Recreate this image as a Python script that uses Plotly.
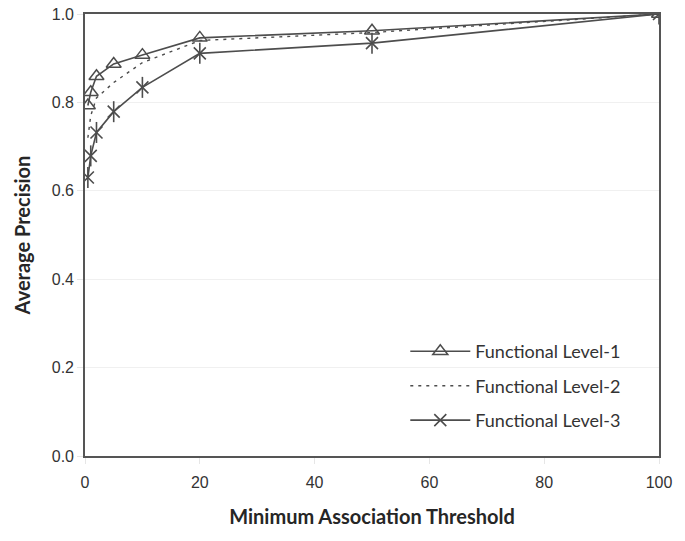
import plotly.graph_objects as go

thresholds = [0.5, 1, 2, 5, 10, 20, 50, 100]
level1 = [0.793, 0.823, 0.859, 0.887, 0.907, 0.946, 0.962, 1.0]
level2 = [0.72, 0.77, 0.81, 0.845, 0.89, 0.94, 0.958, 1.0]
level3 = [0.630, 0.679, 0.732, 0.779, 0.834, 0.911, 0.934, 1.0]
series_names = ["Functional Level-1", "Functional Level-2", "Functional Level-3"]
x_ticks = [0, 20, 40, 60, 80, 100]
y_ticks = [0.0, 0.2, 0.4, 0.6, 0.8, 1.0]

col = "#4d4d4d"
fig = go.Figure()
fig.add_trace(go.Scatter(
    x=thresholds, y=level1, name=series_names[0], mode="lines+markers",
    line=dict(color=col, width=1.6),
    marker=dict(symbol="triangle-up-open", size=13, color=col, line=dict(width=1.5, color=col)),
    legendgroup="g1"))
fig.add_trace(go.Scatter(
    x=thresholds, y=level2, name=series_names[1], mode="lines",
    line=dict(color=col, width=1.4, dash="3px,5px"),
    legendgroup="g2"))
fig.add_trace(go.Scatter(
    x=thresholds, y=level3, name=series_names[2], mode="lines+markers",
    line=dict(color=col, width=1.6),
    marker=dict(symbol="x-thin-open", size=12, color=col, line=dict(width=1.6, color=col)),
    legendgroup="g3"))
fig.add_trace(go.Scatter(
    x=thresholds, y=level3, name=series_names[2], mode="markers",
    marker=dict(symbol="line-ns-open", size=15, color=col, line=dict(width=1.6, color=col)),
    legendgroup="g3", showlegend=False, hoverinfo="skip"))

fig.update_layout(
    width=685, height=541,
    margin=dict(l=85, r=26, t=14, b=85),
    paper_bgcolor="white", plot_bgcolor="white",
    font=dict(family="Liberation Sans, Arial", size=16, color="#333333"),
    showlegend=True,
    legend=dict(
        x=0.558, y=0.278, xanchor="left", yanchor="top",
        bgcolor="rgba(255,255,255,0)",
        font=dict(family="Lato, Open Sans", size=18, color="#333333"),
        itemwidth=60, tracegroupgap=8,
    ),
)
fig.update_xaxes(
    range=[0, 100], tickvals=x_ticks, ticktext=[str(v) for v in x_ticks],
    showgrid=False, zeroline=False, automargin=False,
    showline=True, linecolor="#555555", linewidth=1.6, mirror=True,
    ticks="outside", ticklen=6, tickcolor="#e6e6e6", ticklabelstandoff=5,
    title=dict(text="<b>Minimum Association Threshold</b>",
               font=dict(family="Lato, Open Sans", size=20, color="#262626"), standoff=20),
)
fig.update_yaxes(
    range=[0, 1], tickvals=y_ticks, ticktext=["%.1f" % v for v in y_ticks],
    showgrid=True, gridcolor="#f0f0f0", gridwidth=1, zeroline=False, automargin=False,
    showline=True, linecolor="#555555", linewidth=1.6, mirror=True,
    ticks="outside", ticklen=6, tickcolor="#e6e6e6",
    title=dict(text="<b>Average Precision</b>",
               font=dict(family="Lato, Open Sans", size=20, color="#262626"), standoff=16),
)
fig.write_html("out.html", config={"displayModeBar": False},
               post_script="document.body.style.margin='0';document.body.style.padding='0';")
